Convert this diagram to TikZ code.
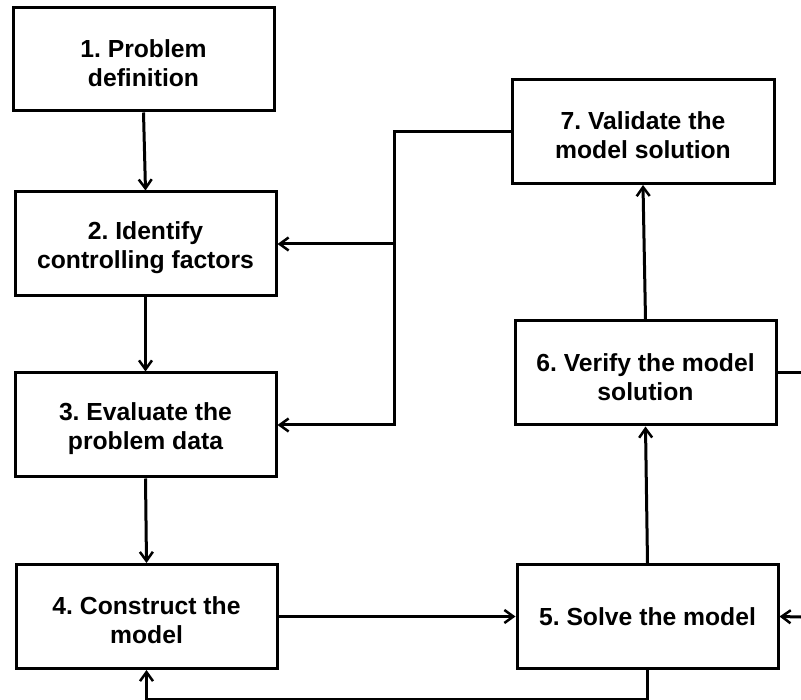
\documentclass[tikz,border=0pt]{standalone}
\usepackage{fontspec}
\setmainfont{Liberation Sans}
\usetikzlibrary{arrows.meta}
\frenchspacing
\begin{document}
\begin{tikzpicture}[x=1pt,y=-1pt,
  box/.style={draw,line width=3pt,minimum width=261pt,minimum height=104pt,
    align=center,inner sep=0pt,font=\bfseries\fontsize{24.7}{29}\selectfont},
  txt/.style={align=center,inner sep=0pt,font=\bfseries\fontsize{24.7}{29}\selectfont,yshift=-4pt},
  conn/.style={line width=3pt},
  arr/.style={conn,-{Straight Barb[length=9pt,width=13pt,line width=2.5pt]}}]
\useasboundingbox (0,0) rectangle (801,700);
\node[box,minimum height=103pt,label={[txt]center:1. Problem\\definition}] (b1) at (143.5,59.5) {};
\node[box,label={[txt]center:2. Identify\\controlling factors}] (b2) at (145.5,244) {};
\node[box,label={[txt]center:3. Evaluate the\\problem data}] (b3) at (145.5,425) {};
\node[box,label={[txt]center:4. Construct the\\model}] (b4) at (146.5,616.5) {};
\node[box] (b5) at (647.5,616.5) {5. Solve the model};
\node[box,label={[txt]center:6. Verify the model\\solution}] (b6) at (645.5,373) {};
\node[box,minimum width=262pt,label={[txt]center:7. Validate the\\model solution}] (b7) at (643,131.5) {};
\coordinate (j) at (394,244);
\coordinate (r1) at (801,373);
\coordinate (r2) at (801,617);
\draw[arr] (b1.south) -- (b2.north);
\draw[arr] (b2.south) -- (b3.north);
\draw[arr] (b3.south) -- (b4.north);
\draw[arr] (b4.east) -- (b5.west);
\draw[arr] (b5.north) -- (b6.south);
\draw[arr] (b6.north) -- (b7.south);
\draw[arr] (b7.west) -| (j) |- (b3.east);
\draw[arr] (j) -- (b2.east);
\draw[arr] (b5.south) -- ++(0,29) -| (b4.south);
\draw[conn] (b6.east) -- (r1);
\draw[arr] (r2) -- (b5.east);
\end{tikzpicture}
\end{document}
